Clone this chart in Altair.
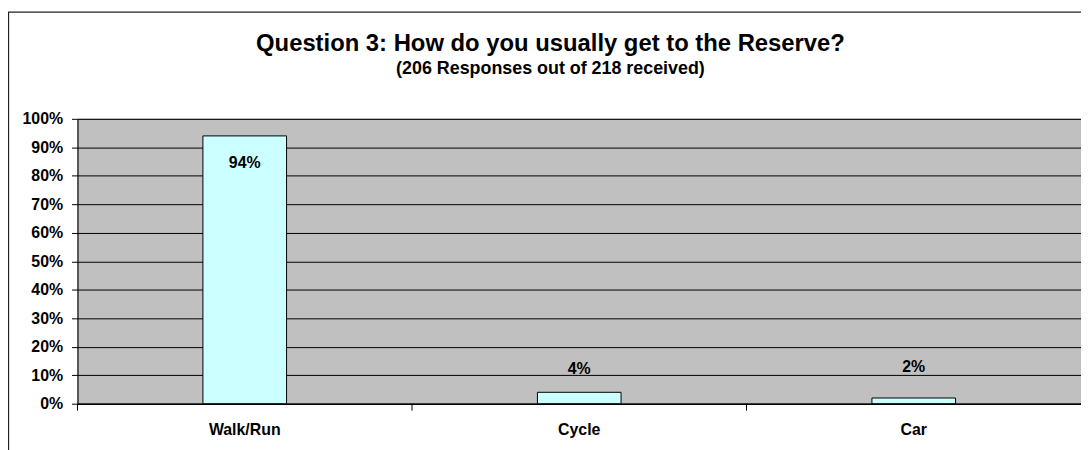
import altair as alt
import pandas as pd

# ---- data ----
categories = ["Walk/Run", "Cycle", "Car"]
shares = [0.94, 0.04, 0.02]
labels = ["94%", "4%", "2%"]
y_ticks = [0, 0.1, 0.2, 0.3, 0.4, 0.5, 0.6, 0.7, 0.8, 0.9, 1.0]
title_text = "Question 3: How do you usually get to the Reserve?"
subtitle_text = "(206 Responses out of 218 received)"

# ---- style ----
FONT = "Liberation Sans"
W, H = 1011, 287
label_dy = [27, -23, -31]

df = pd.DataFrame({"mode": categories, "share": shares, "label": labels})

x_scale = alt.Scale(paddingInner=0, paddingOuter=0)
x_axis = alt.Axis(
    title=None, labelAngle=0, ticks=False, tickSize=0,
    domainColor="black", domainWidth=1.5,
    labelFont=FONT, labelFontSize=16, labelFontWeight="bold",
    labelColor="black", labelPadding=18,
)
y_scale = alt.Scale(domain=[0, 1], nice=False)
y_axis = alt.Axis(
    title=None, values=y_ticks, format=".0%", grid=True,
    gridColor="black", gridWidth=1, gridOpacity=1,
    labelOverlap=False,
    domainColor="black", tickColor="black", tickSize=6, labelPadding=9,
    labelFont=FONT, labelFontSize=16, labelFontWeight="bold",
    labelColor="black",
)
x_enc = alt.X("mode:N", sort=categories, scale=x_scale, axis=x_axis)
y_enc = alt.Y("share:Q", scale=y_scale, axis=y_axis)

base = alt.Chart(df)

border = alt.Chart(pd.DataFrame({"k": [0]})).mark_rect(
    fill="transparent", stroke="#222222", strokeWidth=1.3
).encode(
    x=alt.value(-69.5), x2=alt.value(W + 60),
    y=alt.value(-107.5), y2=alt.value(H + 120),
)

bars = base.mark_bar(
    fill="#CCFFFF", stroke="black", strokeWidth=1,
    width=alt.RelativeBandSize(0.25),
).encode(x=x_enc, y=y_enc)

xticks = base.mark_rule(color="black", strokeWidth=1).encode(
    x=alt.X("mode:N", sort=categories, bandPosition=0, scale=x_scale,
            axis=x_axis),
    y=alt.value(H), y2=alt.value(H + 7),
)

label_layers = []
for i, cat in enumerate(categories):
    label_layers.append(
        base.transform_filter(alt.datum.mode == cat).mark_text(
            dy=label_dy[i], font=FONT, fontSize=16, fontWeight="bold",
            color="black", baseline="middle",
        ).encode(x=x_enc, y=y_enc, text="label:N")
    )

chart = alt.layer(border, bars, xticks, *label_layers).properties(
    width=W, height=H,
    title=alt.TitleParams(
        text=title_text, subtitle=subtitle_text,
        font=FONT, fontSize=24, fontWeight="bold", color="black",
        subtitleFont=FONT, subtitleFontSize=18, subtitleFontWeight="bold",
        subtitleColor="black", subtitlePadding=4,
        anchor="middle", frame="group", dx=-29, offset=-67,
    ),
    padding={"left": 70, "top": 110, "right": 0, "bottom": 45},
    autosize=alt.AutoSizeParams(type="none"),
).configure_view(fill="#C0C0C0", stroke="#808080", strokeWidth=1)

chart.save("out.html", embed_options={"renderer": "svg", "actions": False})
